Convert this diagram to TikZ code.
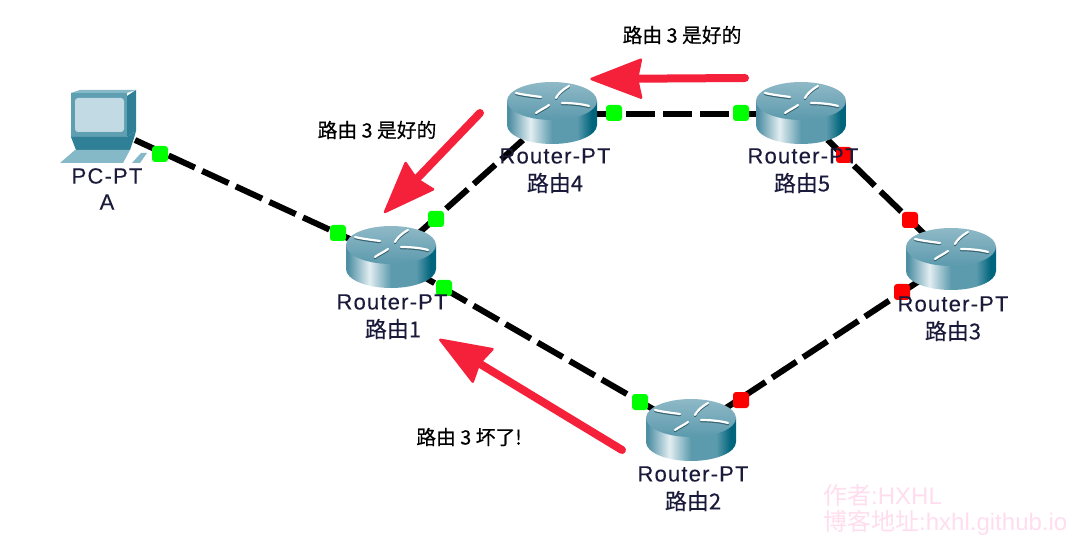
\documentclass[tikz,border=0pt]{standalone}
\usepackage{fontspec}
\setmainfont{Liberation Sans}
\newfontfamily\lbl[LetterSpace=5.4,FakeBold=0.12]{Liberation Sans}
\newfontfamily\cjk[FakeBold=0.12]{Noto Sans CJK SC}
\newfontfamily\cjkwm{Noto Sans CJK SC}
\newfontfamily\cjknote[FakeBold=0.4]{Noto Sans CJK SC}
\usetikzlibrary{arrows.meta,calc}
\definecolor{teal1}{HTML}{00657C}
\definecolor{teal2}{HTML}{E2EEF1}
\definecolor{teal3}{HTML}{8FB9C7}
\definecolor{teal4}{HTML}{5C9AAD}
\definecolor{teal5}{HTML}{4E8FA3}
\definecolor{pcface}{HTML}{5E9FB1}
\definecolor{pcdark}{HTML}{2F7F96}
\definecolor{pclight}{HTML}{86B9C8}
\definecolor{pcscreen}{HTML}{C2DAE4}
\definecolor{redarrow}{HTML}{F5203A}
\definecolor{wm}{HTML}{FFDDEE}
\definecolor{lblink}{HTML}{1A1A3A}
\pgfdeclarehorizontalshading{routerside}{100bp}{
 color(0bp)=(teal5); color(26bp)=(teal5); color(38bp)=(teal2); color(50bp)=(teal4);
 color(64bp)=(teal4); color(72bp)=(teal1); color(100bp)=(teal1)}
\tikzset{
 x=1bp,y=-1bp,
 anchorbox/.style={inner sep=0pt,minimum width=90bp,minimum height=60bp},
 link/.style={line width=6bp,black,dash pattern=on 29bp off 8bp},
 portgreen/.style={fill=green,draw=none,rounded corners=3bp,minimum size=16bp,inner sep=0pt},
 portred/.style={fill=red,draw=none,rounded corners=3bp,minimum size=16bp,inner sep=0pt},
 devlabel/.style={font=\fontsize{22bp}{24bp}\selectfont\lbl,text=lblink,align=center,inner sep=0pt},
 cjklabel/.style={font=\fontsize{22bp}{24bp}\selectfont\cjk,text=lblink,inner sep=0pt},
 note/.style={font=\fontsize{19.8bp}{24bp}\selectfont\cjknote,inner sep=0pt,text=black},
 wmtext/.style={font=\fontsize{24bp}{28bp}\selectfont,text=wm,inner sep=0pt,anchor=west},
 routericon/.style={line width=2.2bp,line cap=round},
}
\newcommand{\iconpaths}{%
  (-36,-8) .. controls (-28,-6) and (-18,-5) .. (-11,-4)
  (17,-15) .. controls (10,-11) and (6,-7) .. (4,-3)
  (-3,4) .. controls (-7,7) and (-12,9) .. (-16,12)
  (10,2) .. controls (20,2) and (30,3) .. (37,5)}
\newcommand{\routerdraw}[1]{%
 \begin{scope}[shift={(#1.center)}]
  \shade[shading=routerside]
    (-45,-13) -- (-45,11) arc[start angle=180,end angle=360,x radius=45,y radius=-19] -- (45,-13) -- cycle;
  \shade[top color=teal3,bottom color=teal4] (0,-13) ellipse[x radius=45,y radius=19];
  \begin{scope}[shift={(0,-13)}]
   \draw[routericon,teal5!70!black,yshift=-1.2bp] \iconpaths;
   \draw[routericon,white] \iconpaths;
  \end{scope}
 \end{scope}}
\newcommand{\redarrowdraw}[2]{%
 \coordinate (ab) at ($(#2)!51bp!(#1)$);
 \coordinate (an) at ($(#2)!47bp!(#1)$);
 \draw[redarrow,line width=8bp,line cap=round] (#1) -- (an);
 \filldraw[redarrow,line width=2.5bp,line join=round]
   ($(#2)!1.5bp!(#1)$) -- ($(ab)!19bp!90:(#1)$) -- (an) -- ($(ab)!19bp!-90:(#1)$) -- cycle;}
\begin{document}
\begin{tikzpicture}
\useasboundingbox (0,0) rectangle (1078,552);
% device nodes
\node[anchorbox] (pc) at (135,140) {};
\node[anchorbox] (r1) at (391,258) {};
\node[anchorbox] (r4) at (552,114) {};
\node[anchorbox] (r5) at (801,114) {};
\node[anchorbox] (r3) at (951,260) {};
\node[anchorbox] (r2) at (691,431) {};
% PC
\fill[pcdark] (127,96) -- (136,90) -- (136,131) -- (127,137) -- cycle;
\fill[pclight] (71,93) -- (80,90) -- (136,90) -- (127,93) -- cycle;
\fill[pcface] (71,93) rectangle (127,137);
\fill[pcscreen,rounded corners=3bp] (75,98) rectangle (124,132);
\fill[pcdark] (71,137) -- (127,137) -- (136,131) -- (134,138) -- (130,150) -- (76,150) -- cycle;
\fill[pclight] (60,163) -- (75,150) -- (130,150) -- (123,163) -- cycle;
\fill[pclight] (132,163) -- (141,153) -- (147,153) -- (140,163) -- cycle;
% links
\draw[link] (pc.center) -- (r1.center);
\draw[link] (r1.center) -- (r4.center);
\draw[link] (r4.center) -- (r5.center);
\draw[link] (r5.center) -- (r3.center);
\draw[link] (r3.center) -- (r2.center);
\draw[link] (r2.center) -- (r1.center);
% routers
\routerdraw{r1}\routerdraw{r4}\routerdraw{r5}\routerdraw{r3}\routerdraw{r2}
% ports
\node[portgreen] (p1) at (160,154) {};
\node[portgreen] (p2) at (338,233) {};
\node[portgreen] (p3) at (436,219) {};
\node[portgreen] (p4) at (444,288) {};
\node[portgreen] (p5) at (614,113) {};
\node[portgreen] (p6) at (741,113) {};
\node[portgreen] (p7) at (640,402) {};
\node[portred] (p8) at (741,400) {};
\node[portred] (p9) at (902,292) {};
\node[portred] (p10) at (910,220) {};
\node[portred] (p11) at (844,155) {};
% labels
\node[devlabel] (l1) at (107,176) {PC-PT};
\node[devlabel] (l2) at (107,202) {A};
\node[devlabel] (l3) at (392,302) {Router-PT};
\node[cjklabel] (l4) at (393,329) {路由1};
\node[devlabel] (l5) at (555,156) {Router-PT};
\node[cjklabel] (l6) at (555,183) {路由4};
\node[devlabel] (l7) at (803,156) {Router-PT};
\node[cjklabel] (l8) at (802,183) {路由5};
\node[devlabel] (l9) at (953,304) {Router-PT};
\node[cjklabel] (l10) at (953,331) {路由3};
\node[devlabel] (l11) at (693,474) {Router-PT};
\node[cjklabel] (l12) at (693,501) {路由2};
% notes
\node[note] (n1) at (682,35) {路由 3 是好的};
\node[note] (n2) at (377,130) {路由 3 是好的};
\node[note] (n3) at (469,437) {路由 3 坏了!};
% arrows
\coordinate (a1s) at (745,78); \coordinate (a1e) at (590,79);
\coordinate (a2s) at (480,113); \coordinate (a2e) at (384,213);
\coordinate (a3s) at (622,450); \coordinate (a3e) at (439,339);
\redarrowdraw{a1s}{a1e}
\redarrowdraw{a2s}{a2e}
\redarrowdraw{a3s}{a3e}
% watermark
\node[wmtext] (w1) at (823,495) {{\cjkwm 作者}:HXHL};
\node[wmtext] (w2) at (823,523) {{\cjkwm 博客地址}:hxhl.github.io};
\end{tikzpicture}
\end{document}
